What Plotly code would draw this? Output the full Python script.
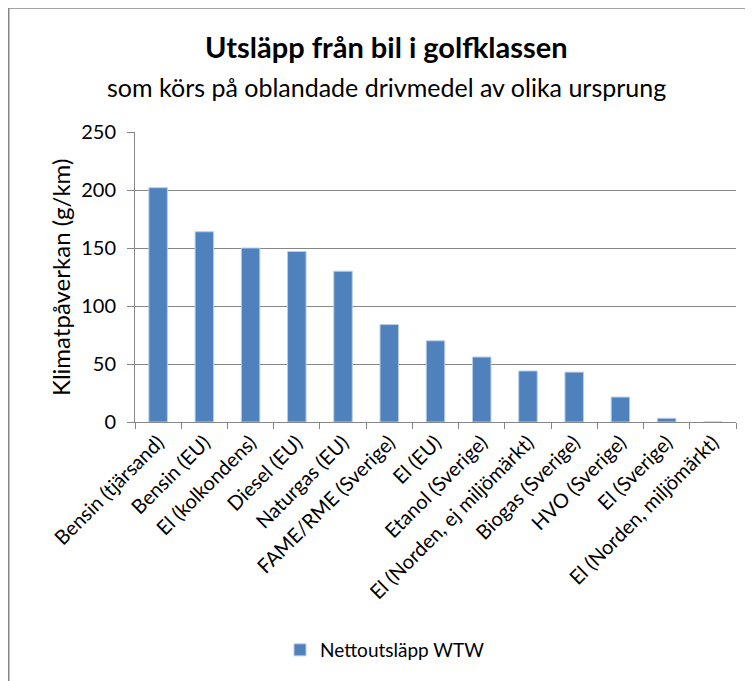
import plotly.graph_objects as go

categories = [
    "Bensin (tjärsand)", "Bensin (EU)", "El (kolkondens)", "Diesel (EU)",
    "Naturgas (EU)", "FAME/RME (Sverige)", "El (EU)", "Etanol (Sverige)",
    "El (Norden, ej miljömärkt)", "Biogas (Sverige)", "HVO (Sverige)",
    "El (Sverige)", "El (Norden, miljömärkt)",
]
values = [202, 164, 150, 147, 130, 84, 70, 56, 44, 43, 21.5, 3.2, 0]
series_name = "Nettoutsläpp WTW"
y_ticks = [0, 50, 100, 150, 200, 250]

# the page body has an 8px margin; work in reference-page pixels and shift
OFF = 8
W, H = 753 - OFF, 681 - OFF
L, T = 135 - OFF, 132 - OFF
R = 17
B = H - (422 - OFF)
pw, ph = W - L - R, H - T - B

def px(x):
    return (x - OFF - L) / pw

def py(y):
    return (H - B - (y - OFF)) / ph

FONT = "Lato"
GRID = "#868686"

fig = go.Figure()
fig.add_trace(go.Bar(
    x=categories, y=values, name=series_name,
    marker=dict(color="#4F81BD", line=dict(color="#B9CDE5", width=1)),
    width=0.4, showlegend=True,
))

fig.update_layout(
    width=W, height=H,
    margin=dict(l=L, r=R, t=T, b=B, pad=0),
    paper_bgcolor="white", plot_bgcolor="white",
    font=dict(family=FONT, color="#000000"),
    showlegend=True,
    legend=dict(orientation="h", x=px(280), y=py(650), xanchor="left", yanchor="middle",
                font=dict(size=19, family=FONT), itemwidth=30, bgcolor="rgba(0,0,0,0)"),
    xaxis=dict(
        tickangle=-45, tickfont=dict(size=20, family=FONT),
        showline=True, linecolor=GRID, linewidth=1,
        ticks="outside", ticklen=6, tickcolor=GRID, tickson="boundaries",
        showgrid=False, range=[-0.5, len(categories) - 0.5],
    ),
    yaxis=dict(
        range=[0, 250], tickvals=y_ticks, tickfont=dict(size=20, family=FONT),
        showline=True, linecolor=GRID, linewidth=1,
        ticks="outside", ticklen=7, tickcolor=GRID, ticklabelstandoff=7,
        showgrid=True, gridcolor=GRID, gridwidth=1, zeroline=False,
    ),
    annotations=[
        dict(text="<b>Utsläpp från bil i golfklassen</b>", x=px(386), y=py(47),
             xref="paper", yref="paper", showarrow=False, font=dict(size=29, family=FONT),
             xanchor="center", yanchor="middle"),
        dict(text="som körs på oblandade drivmedel av olika ursprung", x=px(386), y=py(87),
             xref="paper", yref="paper", showarrow=False, font=dict(size=25, family=FONT),
             xanchor="center", yanchor="middle"),
        dict(text="Klimatpåverkan (g/km)", x=px(60), y=py(278), textangle=-90,
             xref="paper", yref="paper", showarrow=False, font=dict(size=24, family=FONT),
             xanchor="center", yanchor="middle"),
    ],
    shapes=[
        dict(type="line", xref="paper", yref="paper", x0=px(8.5), x1=px(8.5), y0=py(7), y1=py(690),
             line=dict(color=GRID, width=2)),
        dict(type="line", xref="paper", yref="paper", x0=px(8), x1=px(760), y0=py(8), y1=py(8),
             line=dict(color=GRID, width=1.5)),
    ],
)

fig.write_html("out.html")
